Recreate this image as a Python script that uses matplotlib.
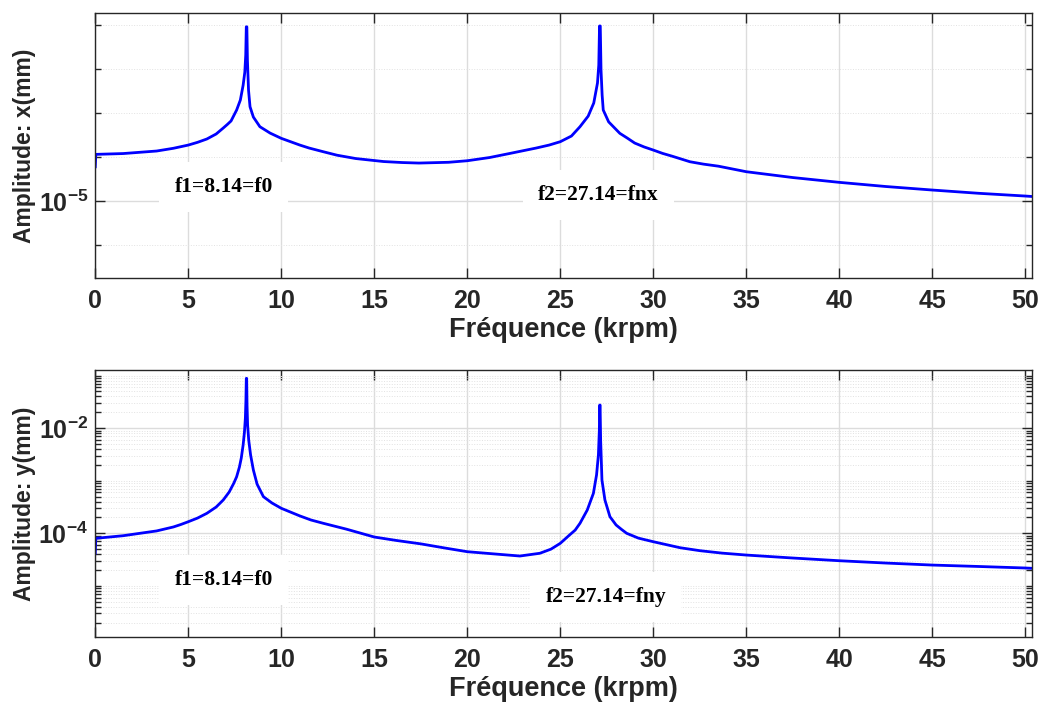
import numpy as np
import matplotlib
matplotlib.use("Agg")
from matplotlib import pyplot as plt
from matplotlib import ticker

# amplitude spectra (frequency in krpm, amplitude in mm)
freq_x = [0.0, 0.03, 1.5, 3.3, 4.2, 5.0, 5.5, 6.0, 6.5, 6.88, 7.1, 7.3, 7.6, 7.8, 7.95,
          8.04, 8.09, 8.12, 8.15, 8.18, 8.24, 8.32, 8.5, 8.85, 9.1, 9.4, 10.0, 11.0,
          11.5, 12.26, 13.0, 14.0, 15.5, 16.5, 17.4, 19.0, 20.0, 21.2, 22.3, 23.7, 24.4,
          25.0, 25.6, 26.06, 26.5, 26.8, 27.0, 27.07, 27.11, 27.15, 27.19, 27.25, 27.31,
          27.6, 28.2, 28.6, 29.0, 29.5, 30.0, 30.5, 31.0, 31.97, 32.7, 33.5, 35.0, 37.5,
          40.0, 42.5, 45.0, 47.5, 50.0, 50.36]
amp_x = [6.0e-5, 1.15e-4, 1.2e-4, 1.37e-4, 1.58e-4, 1.87e-4, 2.16e-4, 2.57e-4, 3.34e-4,
         4.56e-4, 5.5e-4, 6.6e-4, 1.17e-3, 1.97e-3, 4.3e-3, 8.5e-3, 2.09e-2, 9.1e-2,
         9.1e-2, 1.6e-2, 3.3e-3, 1.39e-3, 8.1e-4, 4.89e-4, 4.2e-4, 3.5e-4, 2.66e-4,
         1.87e-4, 1.6e-4, 1.32e-4, 1.1e-4, 9.25e-5, 7.9e-5, 7.5e-5, 7.3e-5, 7.6e-5,
         8.24e-5, 9.75e-5, 1.21e-4, 1.6e-4, 1.87e-4, 2.23e-4, 3.0e-4, 4.89e-4, 8.5e-4,
         1.69e-3, 4.81e-3, 1.23e-2, 9.5e-2, 9.5e-2, 9.5e-3, 2.57e-3, 1.17e-3, 6.3e-4,
         3.46e-4, 2.7e-4, 2.08e-4, 1.7e-4, 1.44e-4, 1.21e-4, 1.05e-4, 7.82e-5, 6.9e-5,
         6.2e-5, 4.64e-5, 3.42e-5, 2.66e-5, 2.14e-5, 1.78e-5, 1.50e-5, 1.30e-5, 1.27e-5]

freq_y = [0.0, 0.03, 1.5, 2.4, 3.3, 4.2, 4.6, 5.0, 5.5, 6.0, 6.5, 6.88, 7.2, 7.45, 7.6,
          7.75, 7.85, 7.95, 8.02, 8.07, 8.10, 8.12, 8.14, 8.16, 8.19, 8.25, 8.35, 8.5,
          8.7, 9.04, 9.5, 10.0, 11.0, 11.6, 12.26, 13.5, 15.0, 16.2, 17.5, 18.8, 20.0,
          21.5, 22.83, 23.9, 24.5, 25.0, 25.5, 25.8, 26.06, 26.45, 26.78, 26.95, 27.05,
          27.10, 27.12, 27.14, 27.17, 27.24, 27.4, 27.67, 28.0, 28.3, 28.57, 29.2, 30.0,
          31.44, 32.51, 33.7, 35.0, 37.5, 40.0, 42.5, 45.0, 47.5, 50.0, 50.36]
amp_y = [4.17e-5, 8.03e-5, 9.0e-5, 1.0e-4, 1.11e-4, 1.32e-4, 1.47e-4, 1.66e-4, 1.95e-4,
         2.40e-4, 3.16e-4, 4.30e-4, 6.1e-4, 9.0e-4, 1.19e-3, 1.82e-3, 2.7e-3, 4.8e-3,
         8.4e-3, 1.55e-2, 3.4e-2, 8.85e-2, 8.85e-2, 2.7e-2, 1.15e-2, 5.9e-3, 3.1e-3,
         1.6e-3, 8.6e-4, 4.97e-4, 3.77e-4, 2.99e-4, 2.14e-4, 1.79e-4, 1.55e-4, 1.2e-4,
         8.5e-5, 7.3e-5, 6.3e-5, 5.25e-5, 4.47e-5, 4.04e-5, 3.70e-5, 4.17e-5, 5.0e-5,
         6.45e-5, 9.3e-5, 1.15e-4, 1.55e-4, 2.77e-4, 5.75e-4, 1.29e-3, 3.1e-3, 9.1e-3,
         2.75e-2, 2.75e-2, 5.9e-3, 1.03e-3, 4.3e-4, 2.07e-4, 1.44e-4, 1.18e-4, 1.0e-4,
         8.1e-5, 6.92e-5, 5.32e-5, 4.67e-5, 4.2e-5, 3.86e-5, 3.39e-5, 3.01e-5, 2.72e-5,
         2.49e-5, 2.34e-5, 2.19e-5, 2.16e-5]

x_ticks = [0, 5, 10, 15, 20, 25, 30, 35, 40, 45, 50]
top_major = [1e-5]
top_minor = [1e-6, 1e-4, 1e-3, 1e-2, 1e-1]
bot_major = [1e-4, 1e-2]

plt.rcParams['font.family'] = ['Liberation Sans', 'DejaVu Sans']
plt.rcParams['font.weight'] = 'bold'
plt.rcParams['axes.labelweight'] = 'bold'
plt.rcParams['mathtext.fontset'] = 'custom'
plt.rcParams['mathtext.rm'] = 'Liberation Sans:bold'
plt.rcParams['mathtext.bf'] = 'Liberation Sans:bold'

dark = '#262626'


def sci(v, pos):
    e = int(round(np.log10(v)))
    return r'$\mathbf{10^{%d}}$' % e


def style(ax, ylabel):
    ax.set_xlim(0, 50.36)
    ax.set_xticks(x_ticks)
    ax.tick_params(which='both', direction='in', top=True, right=True,
                   colors=dark, labelsize=18, width=1.0)
    ax.tick_params(which='major', length=7)
    ax.tick_params(which='minor', length=4)
    ax.tick_params(axis='x', pad=8)
    ax.tick_params(axis='y', pad=5)
    for s in ax.spines.values():
        s.set_color(dark)
        s.set_linewidth(1.0)
    ax.grid(True, which='major', color='#dcdcdc', lw=1.0)
    ax.grid(True, which='minor', axis='y', color='#e2e2e2', lw=0.7, ls=':')
    ax.yaxis.set_major_formatter(ticker.FuncFormatter(sci))
    ax.yaxis.set_minor_formatter(ticker.NullFormatter())
    ax.set_xlabel('Fréquence (krpm)', fontsize=19.5, fontweight='bold', color=dark,
                  labelpad=3)
    ax.set_ylabel(ylabel, fontsize=16.5, fontweight='bold', color=dark, labelpad=2)
    for lab in ax.get_xticklabels():
        lab.set_fontweight('bold')


fig = plt.figure(figsize=(10.4, 7.04), dpi=100)
ax1 = fig.add_axes([0.0916, 0.605, 0.9007, 0.377])
ax2 = fig.add_axes([0.0916, 0.0956, 0.9007, 0.3788])

box = dict(boxstyle='square,pad=0.7', fc='white', ec='none')
tfont = dict(family='Liberation Serif', weight='bold', size=15.5, color='black')

# top: x amplitude
ax1.set_yscale('log')
ax1.plot(freq_x, amp_x, color='#0000ff', lw=2.0)
ax1.set_ylim(10 ** -6.75, 10 ** -0.72)
ax1.yaxis.set_major_locator(ticker.FixedLocator(top_major))
ax1.yaxis.set_minor_locator(ticker.FixedLocator(top_minor))
style(ax1, 'Amplitude: x(mm)')
ax1.text(0.137, 0.343, 'f1=8.14=f0', transform=ax1.transAxes, ha='center',
         va='center', bbox=box, **tfont)
ax1.text(0.537, 0.313, 'f2=27.14=fnx', transform=ax1.transAxes, ha='center',
         va='center', bbox=box, **tfont)

# bottom: y amplitude
ax2.set_yscale('log')
ax2.plot(freq_y, amp_y, color='#0000ff', lw=2.0)
ax2.set_ylim(10 ** -5.966, 10 ** -0.895)
ax2.yaxis.set_major_locator(ticker.FixedLocator(bot_major))
ax2.yaxis.set_minor_locator(ticker.LogLocator(base=10, subs=np.arange(1, 10), numticks=50))
style(ax2, 'Amplitude: y(mm)')
ax2.text(0.137, 0.213, 'f1=8.14=f0', transform=ax2.transAxes, ha='center',
         va='center', bbox=box, **tfont)
ax2.text(0.545, 0.149, 'f2=27.14=fny', transform=ax2.transAxes, ha='center',
         va='center', bbox=box, **tfont)

fig.savefig('out.png', dpi=100)
